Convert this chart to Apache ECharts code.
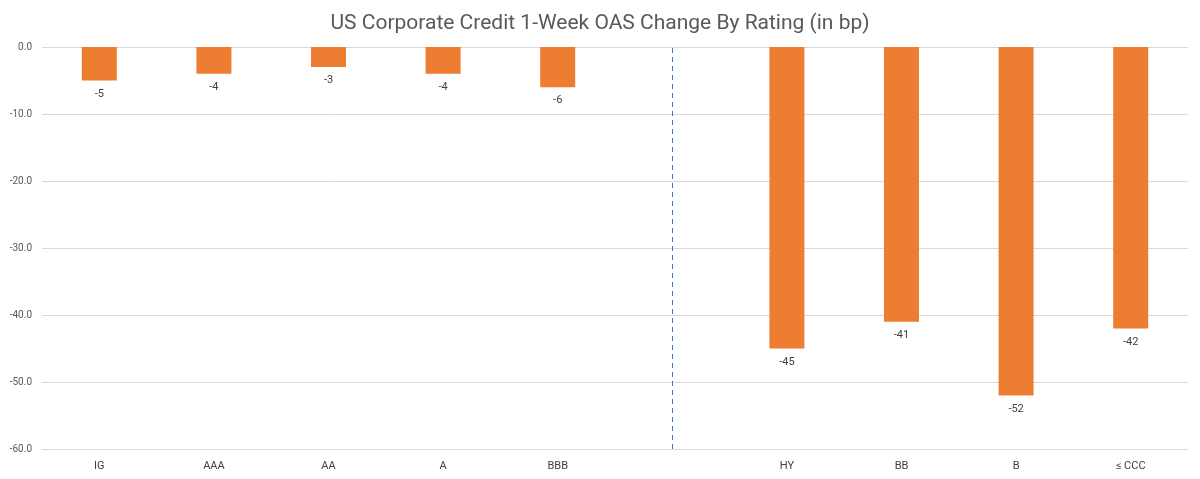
<!DOCTYPE html>
<html>
<head>
<meta charset="utf-8">
<script src="https://cdn.jsdelivr.net/npm/echarts@6/dist/echarts.min.js"></script>
<style>html,body{margin:0;padding:0;background:#fff}#c{width:1200px;height:479px}</style>
</head>
<body>
<div id="c"></div>
<script>
const categories = ['IG', 'AAA', 'AA', 'A', 'BBB', '', 'HY', 'BB', 'B', '\u2264 CCC'];
const oasChange = [-5, -4, -3, -4, -6, null, -45, -41, -52, -42];
const dividerIndex = 5;
const yTicks = { min: -60, max: 0, interval: 10 };

const chart = echarts.init(document.getElementById('c'));
chart.setOption({
  animation: false,
  backgroundColor: '#ffffff',
  title: {
    text: 'US Corporate Credit 1-Week OAS Change By Rating (in bp)',
    left: 'center',
    top: 8,
    textStyle: { fontFamily: 'Roboto', fontSize: 21, fontWeight: 'normal', color: '#595959' }
  },
  grid: { left: 42, right: 12, top: 47, bottom: 30, containLabel: false },
  xAxis: {
    type: 'category',
    data: categories,
    position: 'bottom',
    axisLine: { show: false },
    axisTick: { show: false },
    axisLabel: { color: '#404040', fontFamily: 'Roboto', fontSize: 11, margin: 12 }
  },
  yAxis: {
    type: 'value',
    min: yTicks.min,
    max: yTicks.max,
    interval: yTicks.interval,
    axisLine: { show: false },
    axisTick: { show: false },
    axisLabel: { color: '#595959', fontFamily: 'Roboto', fontSize: 10, margin: 10,
      formatter: v => v.toFixed(1) },
    splitLine: { lineStyle: { color: '#d9d9d9', width: 1 } }
  },
  series: [{
    type: 'bar',
    data: oasChange,
    barWidth: 35,
    itemStyle: { color: '#ED7D31' },
    label: {
      show: true,
      position: 'bottom',
      distance: 8,
      color: '#404040',
      fontFamily: 'Roboto',
      fontSize: 11,
      formatter: p => p.value == null ? '' : String(p.value)
    },
    markLine: {
      silent: true,
      symbol: ['none', 'none'],
      label: { show: false },
      lineStyle: { color: '#4472C4', type: [5, 4], width: 1 },
      data: [{ xAxis: dividerIndex }]
    }
  }]
});
</script>
</body>
</html>
